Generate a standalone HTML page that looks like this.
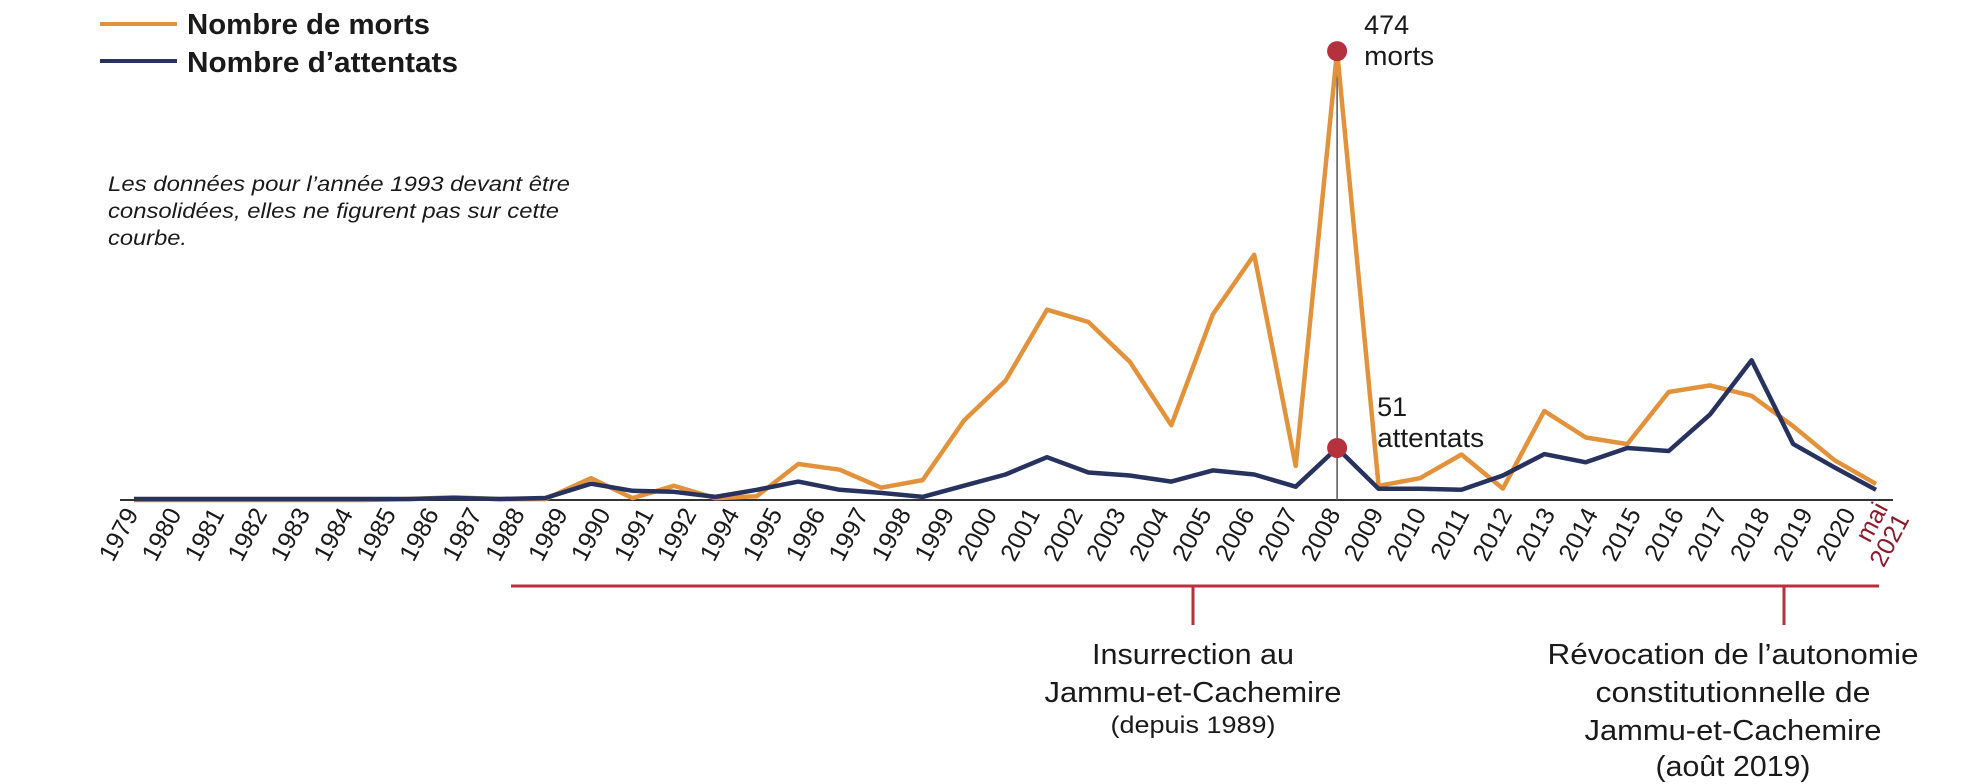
<!DOCTYPE html>
<html><head><meta charset="utf-8">
<style>
html,body{margin:0;padding:0;background:#fff;}
svg{display:block;}
text{font-family:"Liberation Sans Narrow","Liberation Sans",sans-serif;fill:#1a1a1a;}
</style></head>
<body>
<svg id="chart" width="1970" height="784" viewBox="0 0 1970 784" xmlns="http://www.w3.org/2000/svg">
  <g>
    <line x1="100" y1="24" x2="177" y2="24" stroke="#E3923C" stroke-width="4"/>
    <text x="187" y="34" font-size="29" font-weight="bold" textLength="243" lengthAdjust="spacingAndGlyphs">Nombre de morts</text>
    <line x1="100" y1="61" x2="177" y2="61" stroke="#27325F" stroke-width="4"/>
    <text x="187" y="72" font-size="29" font-weight="bold" textLength="271" lengthAdjust="spacingAndGlyphs">Nombre d’attentats</text>
  </g>
  <g font-style="italic" font-size="21">
    <text x="108" y="191" textLength="462" lengthAdjust="spacingAndGlyphs">Les données pour l’année 1993 devant être</text>
    <text x="108" y="218" textLength="451" lengthAdjust="spacingAndGlyphs">consolidées, elles ne figurent pas sur cette</text>
    <text x="108" y="245" textLength="79" lengthAdjust="spacingAndGlyphs">courbe.</text>
  </g>
  <g id="plot"></g>
  <g stroke="#B5313D" stroke-width="3">
    <line x1="511" y1="586" x2="1879" y2="586"/>
    <line x1="1193" y1="586" x2="1193" y2="625"/>
    <line x1="1784" y1="586" x2="1784" y2="625"/>
  </g>
  <g text-anchor="middle" font-size="29">
    <text x="1193" y="664" textLength="202" lengthAdjust="spacingAndGlyphs">Insurrection au</text>
    <text x="1193" y="702" textLength="297" lengthAdjust="spacingAndGlyphs">Jammu-et-Cachemire</text>
    <text x="1193" y="733" font-size="24" textLength="165" lengthAdjust="spacingAndGlyphs">(depuis 1989)</text>
  </g>
  <g text-anchor="middle" font-size="29">
    <text x="1733" y="664" textLength="371" lengthAdjust="spacingAndGlyphs">Révocation de l’autonomie</text>
    <text x="1733" y="702" textLength="275" lengthAdjust="spacingAndGlyphs">constitutionnelle de</text>
    <text x="1733" y="740" textLength="297" lengthAdjust="spacingAndGlyphs">Jammu-et-Cachemire</text>
    <text x="1733" y="776" textLength="155" lengthAdjust="spacingAndGlyphs">(août 2019)</text>
  </g>
</svg>
<script>
const years = ["1979","1980","1981","1982","1983","1984","1985","1986","1987","1988","1989","1990","1991","1992","1994","1995","1996","1997","1998","1999","2000","2001","2002","2003","2004","2005","2006","2007","2008","2009","2010","2011","2012","2013","2014","2015","2016","2017","2018","2019","2020","mai 2021"];
const morts = [0,0,0,0,0,0,1,3,1,1,23,2,15,2,4,38,32,13,21,84,126,201,188,146,79,196,259,36,474,15,23,48,12,94,66,59,114,121,110,78,42,17];
const attentats = [1,1,1,1,1,1,1,2,1,2,16,9,8,3,10,18,10,7,3,14,25,42,27,24,18,29,25,13,51,11,11,10,24,45,37,51,48,84,137,55,32,10];

const NS = "http://www.w3.org/2000/svg";
const plot = document.getElementById("plot");
const base = 500;
const xPos = i => i <= 10 ? 134 + i * 45.7 : 591 + (i - 10) * 41.45;
const xLab = i => 134 + i * 42.93;
const yMorts = v => base - v * 0.947;
const yAtt = v => base - v * 1.02;

function mk(tag, attrs) {
  const e = document.createElementNS(NS, tag);
  for (const k in attrs) e.setAttribute(k, attrs[k]);
  return e;
}

const axis = mk("line", {x1: 120, y1: base, x2: 1893, y2: base, stroke: "#333", "stroke-width": 2});


plot.appendChild(axis);

const peakIdx = morts.indexOf(Math.max(...morts));
const vline = mk("line", {x1: xPos(peakIdx), y1: base, x2: xPos(peakIdx), y2: yMorts(morts[peakIdx]), stroke: "#555", "stroke-width": 1.5});


plot.appendChild(vline);

function series(vals, yf, color, name) {
  const pts = vals.map((v, i) => xPos(i).toFixed(1) + "," + yf(v).toFixed(1)).join(" ");
  const pl = mk("polyline", {points: pts, fill: "none", stroke: color, "stroke-width": 4.5, "stroke-linejoin": "round"});
  
  
  plot.appendChild(pl);
}
series(morts, yMorts, "#E3923C", "morts-line");
series(attentats, yAtt, "#27325F", "attentats-line");

const d1 = mk("circle", {cx: xPos(peakIdx), cy: yMorts(morts[peakIdx]), r: 10, fill: "#B5313D"});


plot.appendChild(d1);
const d2 = mk("circle", {cx: xPos(peakIdx), cy: yAtt(attentats[peakIdx]), r: 10, fill: "#B5313D"});


plot.appendChild(d2);

function label(txt, x, y, size, len, name) {
  const t = mk("text", {x: x, y: y, "font-size": size, textLength: len, lengthAdjust: "spacingAndGlyphs"});
  t.textContent = txt;
  
  
  plot.appendChild(t);
}
const px = xPos(peakIdx);
label(String(morts[peakIdx]), px + 27, 34, 27, 45, "morts-peak-value");
label("morts", px + 27, 65, 27, 70, "morts-peak-unit");
label(String(attentats[peakIdx]), px + 40, 416, 27, 30, "attentats-peak-value");
label("attentats", px + 40, 447, 27, 107, "attentats-peak-unit");

years.forEach((y, i) => {
  const g = mk("g", {transform: "translate(" + (xLab(i) - 2) + ",510) rotate(-62)"});
  
  
  if (y.startsWith("mai")) {
    const t1 = mk("text", {x: 0, y: -4, "text-anchor": "end", "font-size": 25, style: "fill:#8B1A2B"});
    t1.textContent = "mai";
    const t2 = mk("text", {x: 0, y: 20, "text-anchor": "end", "font-size": 25, style: "fill:#8B1A2B"});
    t2.textContent = "2021";
    g.appendChild(t1); g.appendChild(t2);
  } else {
    const t = mk("text", {x: 0, y: 8, "text-anchor": "end", "font-size": 25});
    t.textContent = y;
    g.appendChild(t);
  }
  plot.appendChild(g);
});
</script>
</body></html>
